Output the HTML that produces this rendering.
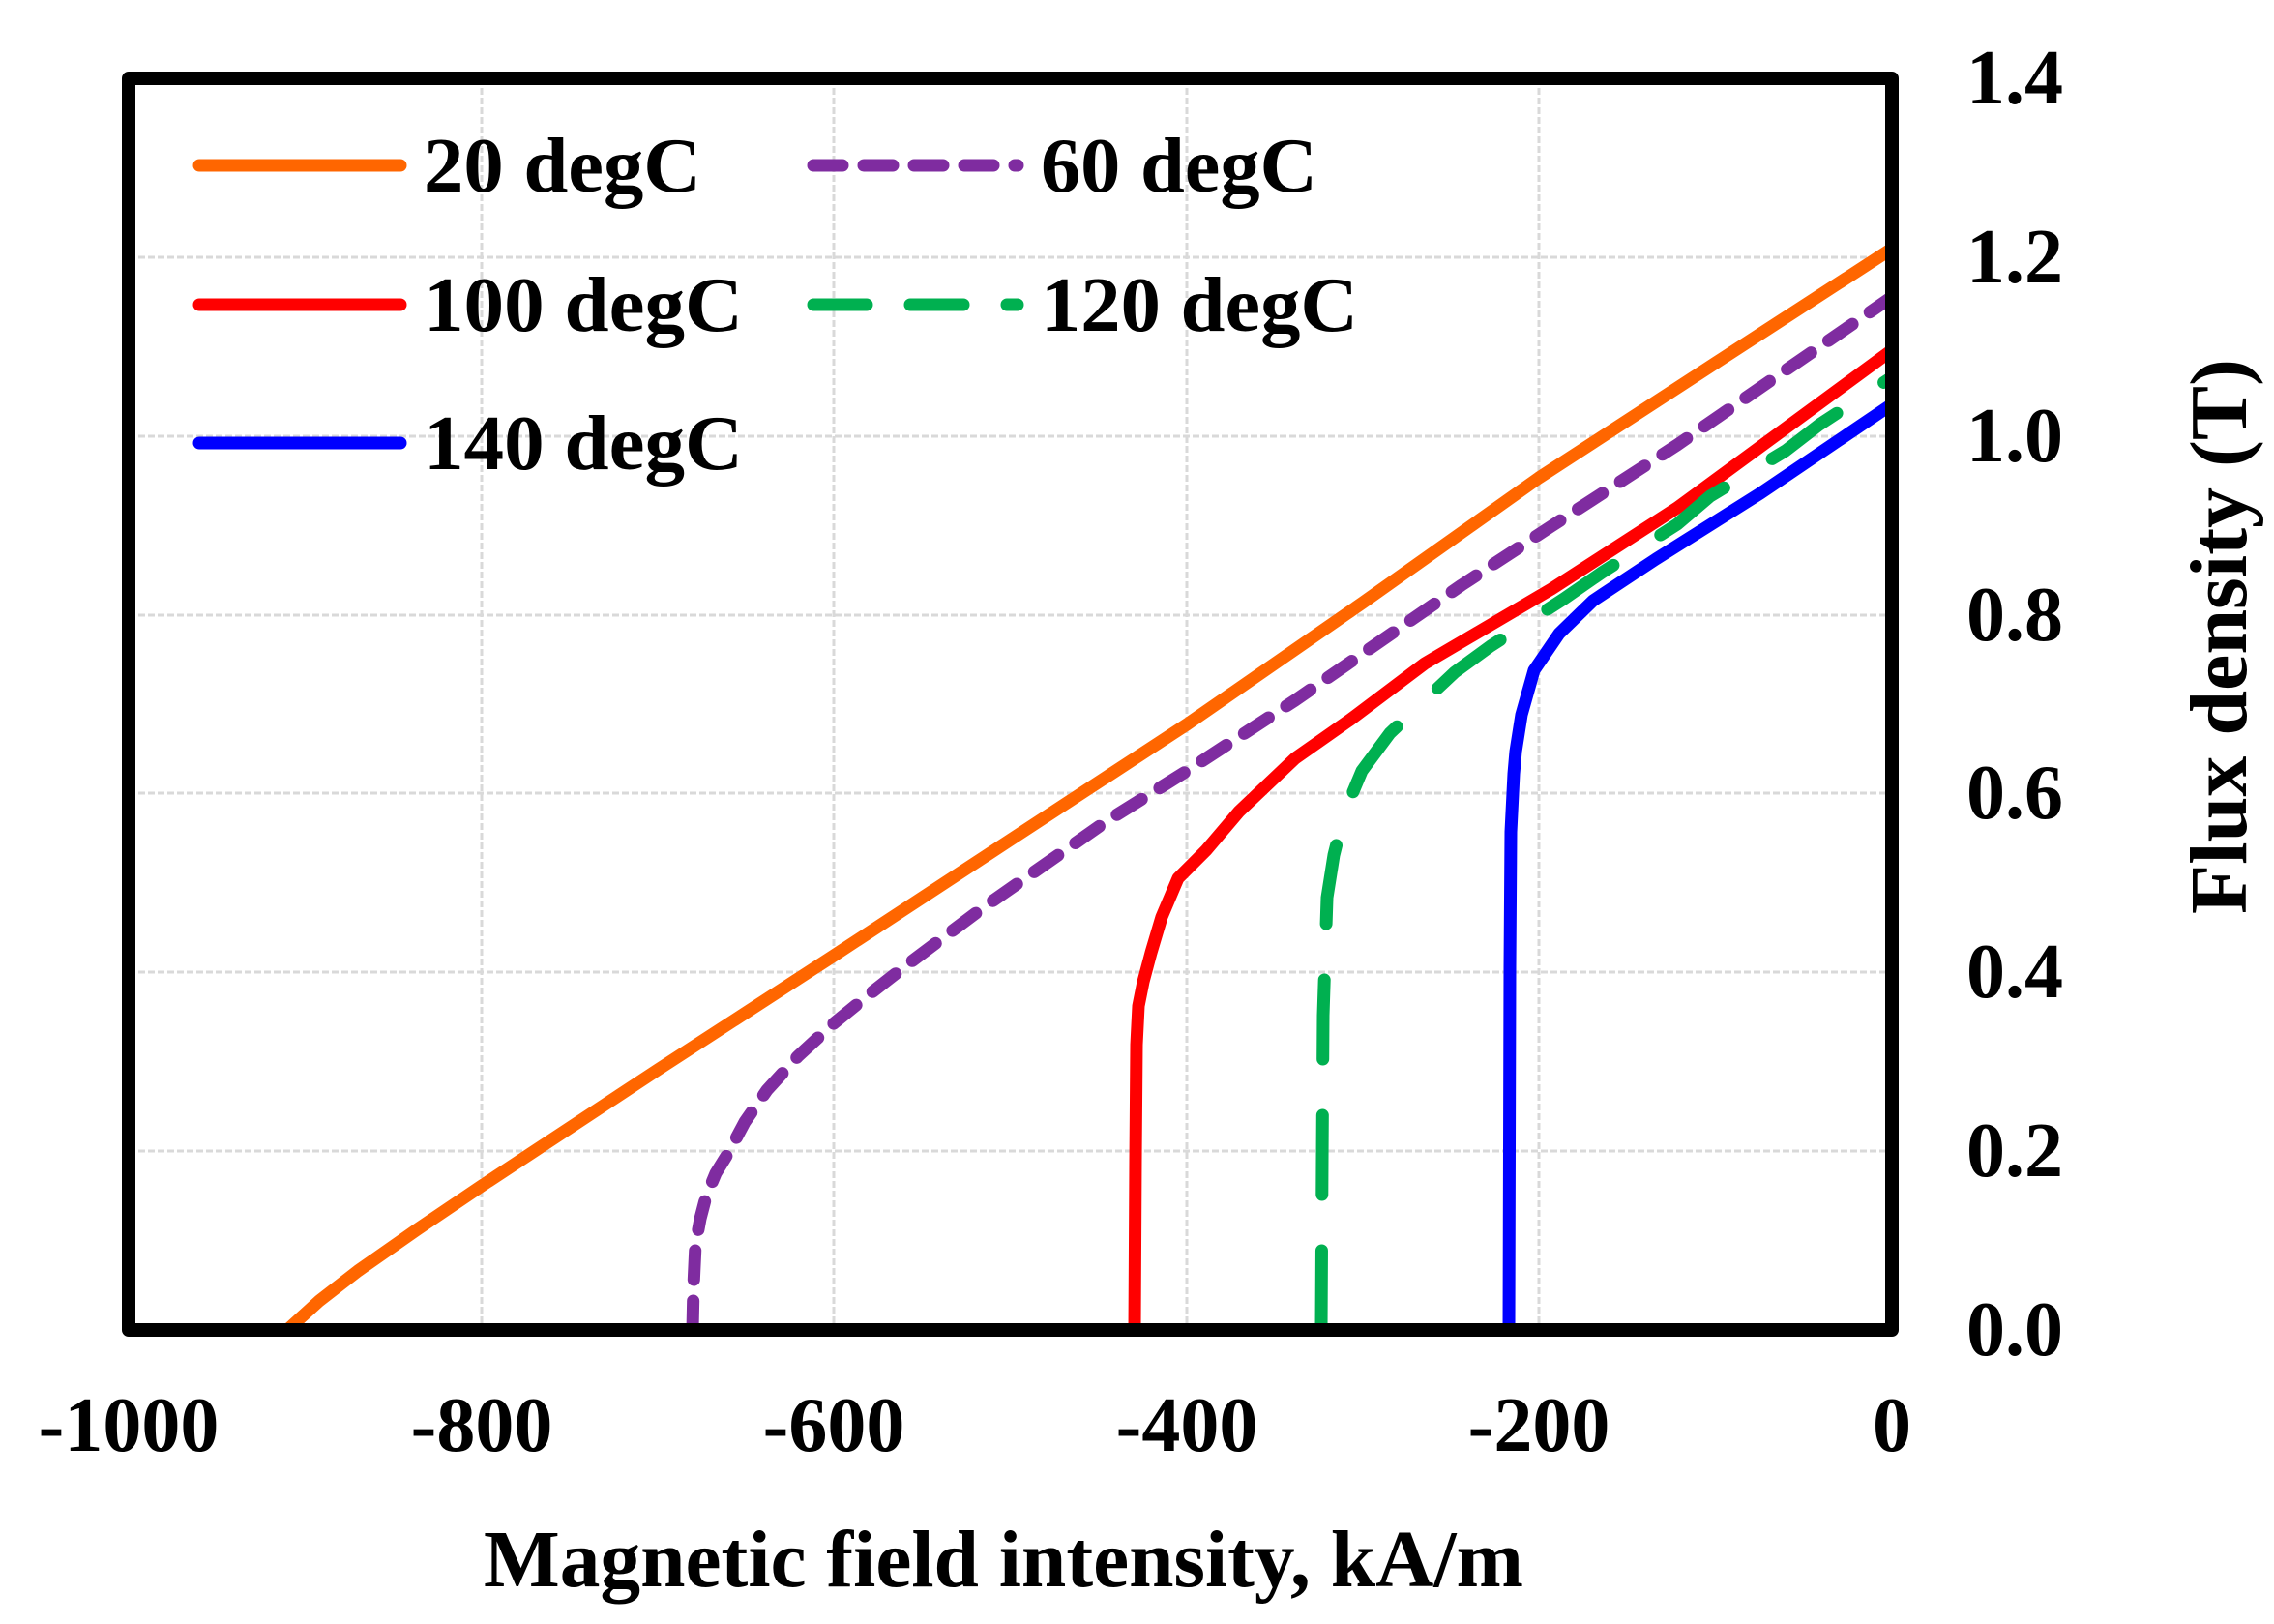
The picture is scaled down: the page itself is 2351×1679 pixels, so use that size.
<!DOCTYPE html>
<html><head><meta charset="utf-8"><style>
html,body{margin:0;padding:0;background:#fff;}
svg{display:block;}
text{font-family:"Liberation Serif",serif;font-weight:bold;fill:#000;}
</style></head><body>
<svg width="2351" height="1679" viewBox="0 0 2351 1679" xmlns="http://www.w3.org/2000/svg">
<rect width="2351" height="1679" fill="#fff"/>
<g stroke="#d9d9d9" stroke-width="3" stroke-dasharray="7 3" fill="none">
<line x1="498" y1="81" x2="498" y2="1375"/>
<line x1="862" y1="81" x2="862" y2="1375"/>
<line x1="1227" y1="81" x2="1227" y2="1375"/>
<line x1="1591" y1="81" x2="1591" y2="1375"/>
<line x1="133" y1="1190" x2="1956" y2="1190"/>
<line x1="133" y1="1005" x2="1956" y2="1005"/>
<line x1="133" y1="820" x2="1956" y2="820"/>
<line x1="133" y1="636" x2="1956" y2="636"/>
<line x1="133" y1="451" x2="1956" y2="451"/>
<line x1="133" y1="266" x2="1956" y2="266"/>
</g>
<g fill="none" stroke-width="13" stroke-linejoin="round">
<polyline stroke="#ff6600" stroke-linecap="round" points="297,1375 330,1345 370,1314 430,1272 498,1226 680,1106 862,988 1045,868 1227,749 1409,623 1591,494 1774,375 1956,257"/>
<polyline stroke="#7f2ca0" stroke-linecap="round" stroke-dasharray="30 22" points="716,1375 717,1330 719,1287 724,1260 730,1237 740,1213 753,1192 770,1160 793,1127 825,1092 862,1058 900,1027 937,998 1017,938 1144,849 1224,799 1339,724 1511,605 1604,544 1734,460 1956,307"/>
<polyline stroke="#ff0000" stroke-linecap="butt" points="1173,1375 1174,1200 1175,1080 1177,1040 1182,1015 1190,985 1201,948 1218,908 1247,879 1281,839 1339,784 1396,744 1473,686 1604,609 1734,525 1956,362"/>
<polyline stroke="#00b050" stroke-linecap="round" stroke-dasharray="82 58" points="1366,1375 1367,1200 1368,1050 1372,928 1379,884 1390,840 1408,797 1437,758 1504,695 1541,668 1617,619 1656,592 1734,542 1768,513 1846,466 1881,439 1956,390"/>
<polyline stroke="#0000ff" stroke-linecap="butt" points="1560,1375 1561,1000 1562,860 1565,800 1567,777 1573,739 1586,693 1612,655 1647,621 1712,578 1820,510 1956,418"/>
</g>
<rect x="133" y="81" width="1823" height="1294" fill="none" stroke="#000" stroke-width="14" stroke-linejoin="round"/>
<g stroke-width="13" stroke-linecap="round" fill="none">
<line x1="206" y1="171" x2="414" y2="171" stroke="#ff6600"/>
<line x1="841" y1="171" x2="1052" y2="171" stroke="#7f2ca0" stroke-dasharray="30 22"/>
<line x1="206" y1="315" x2="414" y2="315" stroke="#ff0000"/>
<line x1="841" y1="315" x2="1052" y2="315" stroke="#00b050" stroke-dasharray="55 45"/>
<line x1="206" y1="458" x2="414" y2="458" stroke="#0000ff"/>
</g>
<g font-size="80">
<text x="438" y="198" textLength="287" lengthAdjust="spacingAndGlyphs">20 degC</text>
<text x="1076" y="198" textLength="286" lengthAdjust="spacingAndGlyphs">60 degC</text>
<text x="438" y="342" textLength="330" lengthAdjust="spacingAndGlyphs">100 degC</text>
<text x="1076" y="342" textLength="328" lengthAdjust="spacingAndGlyphs">120 degC</text>
<text x="438" y="485" textLength="330" lengthAdjust="spacingAndGlyphs">140 degC</text>
</g>
<g font-size="80">
<text x="2033" y="107">1.4</text>
<text x="2033" y="292">1.2</text>
<text x="2033" y="477">1.0</text>
<text x="2033" y="662">0.8</text>
<text x="2033" y="846">0.6</text>
<text x="2033" y="1031">0.4</text>
<text x="2033" y="1216">0.2</text>
<text x="2033" y="1401">0.0</text>
</g>
<g font-size="80" text-anchor="middle">
<text x="133" y="1500">-1000</text>
<text x="498" y="1500">-800</text>
<text x="862" y="1500">-600</text>
<text x="1227" y="1500">-400</text>
<text x="1591" y="1500">-200</text>
<text x="1956" y="1500">0</text>
</g>
<text x="500" y="1640" font-size="84" textLength="1075" lengthAdjust="spacingAndGlyphs">Magnetic field intensity, kA/m</text>
<text transform="translate(2322,658) rotate(-90)" font-size="84" text-anchor="middle">Flux density (T)</text>
</svg>
</body></html>
